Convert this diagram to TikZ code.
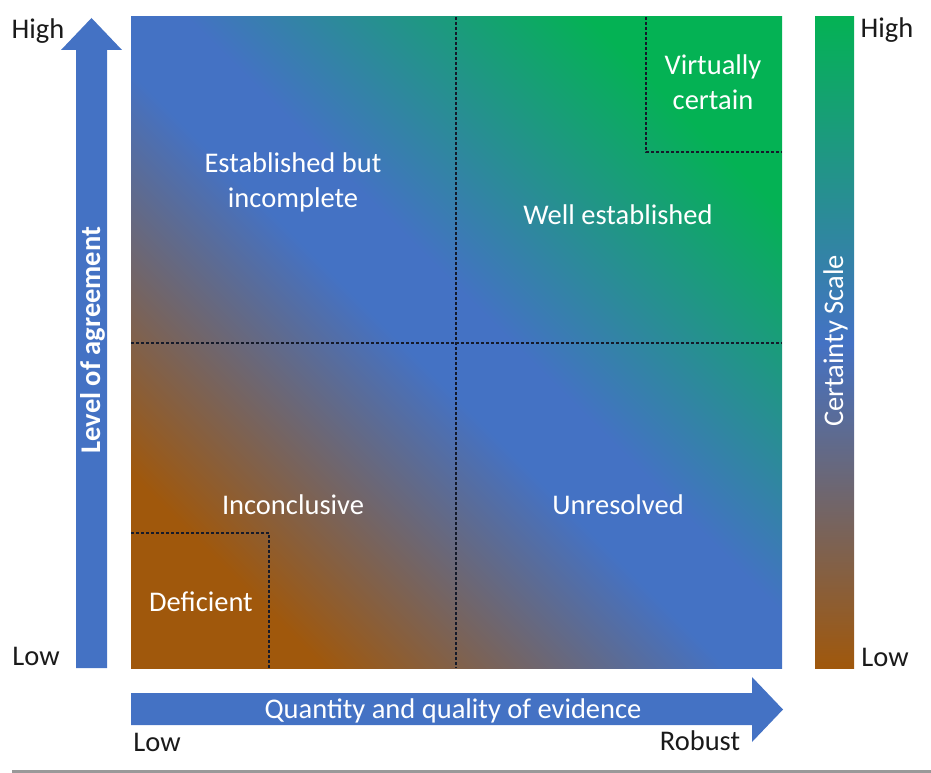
\documentclass[tikz,border=0pt]{standalone}
\usepackage{fontspec}
\setmainfont{Carlito}
\definecolor{cbrown}{HTML}{A0580C}
\definecolor{cblue}{HTML}{4472C4}
\definecolor{cgreen}{HTML}{04B254}
\definecolor{dashcol}{HTML}{151A2A}
\definecolor{inkcol}{HTML}{1A1A1A}
% brown -> blue -> green, with a slightly wider blue band in the middle
\pgfdeclareverticalshading{certaintyfield}{100bp}{%
  color(0bp)=(cbrown); color(25bp)=(cbrown);
  color(47bp)=(cblue); color(53bp)=(cblue);
  color(75bp)=(cgreen); color(100bp)=(cgreen)}
\begin{document}
\begin{tikzpicture}[x=1pt,y=-1pt,
  every node/.style={inner sep=0pt, outer sep=0pt},
  zone/.style={text=white, font=\fontsize{28.5}{35}\selectfont, align=center, anchor=base},
  tick/.style={text=inkcol, font=\fontsize{28.5}{35}\selectfont, anchor=base},
  axislabel/.style={text=white, font=\fontsize{28.5}{35}\selectfont, anchor=base},
  divider/.style={draw=dashcol, line width=1.6pt, dash pattern=on 3pt off 2pt},
  arrowfill/.style={fill=cblue},
  certainty/.style={top color=cgreen, bottom color=cbrown, middle color=cblue}]
\useasboundingbox (0,0) rectangle (931,773);

% certainty field: brown (low) through blue to green (high) along the diagonal
\shade[shading=certaintyfield, shading angle=-45] (131,17) rectangle (782,668);
\coordinate (fieldNW) at (131,17);
\coordinate (fieldSE) at (782,668);

% quadrant dividers and corner boxes
\draw[divider] (456,17) -- (456,668);
\draw[divider] (131,343) -- (782,343);
\draw[divider] (646,17) -- (646,152) -- (782,152);
\draw[divider] (131,533) -- (269,533) -- (269,668);

% certainty scale bar
\shade[certainty] (815,17) rectangle (854,668);

% vertical axis arrow
\fill[arrowfill] (76,668) -- (76,50) -- (61,50) -- (91.5,18) -- (122,50) -- (107,50) -- (107,668) -- cycle;
% horizontal axis arrow
\fill[arrowfill] (131,693) -- (752,693) -- (752,677) -- (783,709.5) -- (752,742) -- (752,725) -- (131,725) -- cycle;

% zone labels (base anchor sits on the last line)
\node[zone] (estab) at (293,207) {Established but\\incomplete};
\node[zone] (well) at (618,224) {Well established};
\node[zone] (virt) at (713,110) {Virtually\\certain};
\node[zone] (incon) at (293,514) {Inconclusive};
\node[zone] (unres) at (618,514) {Unresolved};
\node[zone] (defic) at (201,611) {Deficient};

% axis titles
\node[axislabel, rotate=90, font=\fontsize{28.5}{35}\selectfont\bfseries] (agree) at (100,340) {Level of agreement};
\node[axislabel] (evid) at (453,718) {Quantity and quality of evidence};
\node[axislabel, rotate=90] (scale) at (843,341) {Certainty Scale};

% end labels
\node[tick] (vhigh) at (38,39) {High};
\node[tick] (vlow) at (36,665) {Low};
\node[tick] (shigh) at (887,38) {High};
\node[tick] (slow) at (885,666) {Low};
\node[tick] (hlow) at (157,751) {Low};
\node[tick] (hrob) at (700,750) {Robust};

% rule along the bottom edge
\draw[draw=gray!80, line width=3pt] (12,771.5) -- (931,771.5);
\end{tikzpicture}
\end{document}
